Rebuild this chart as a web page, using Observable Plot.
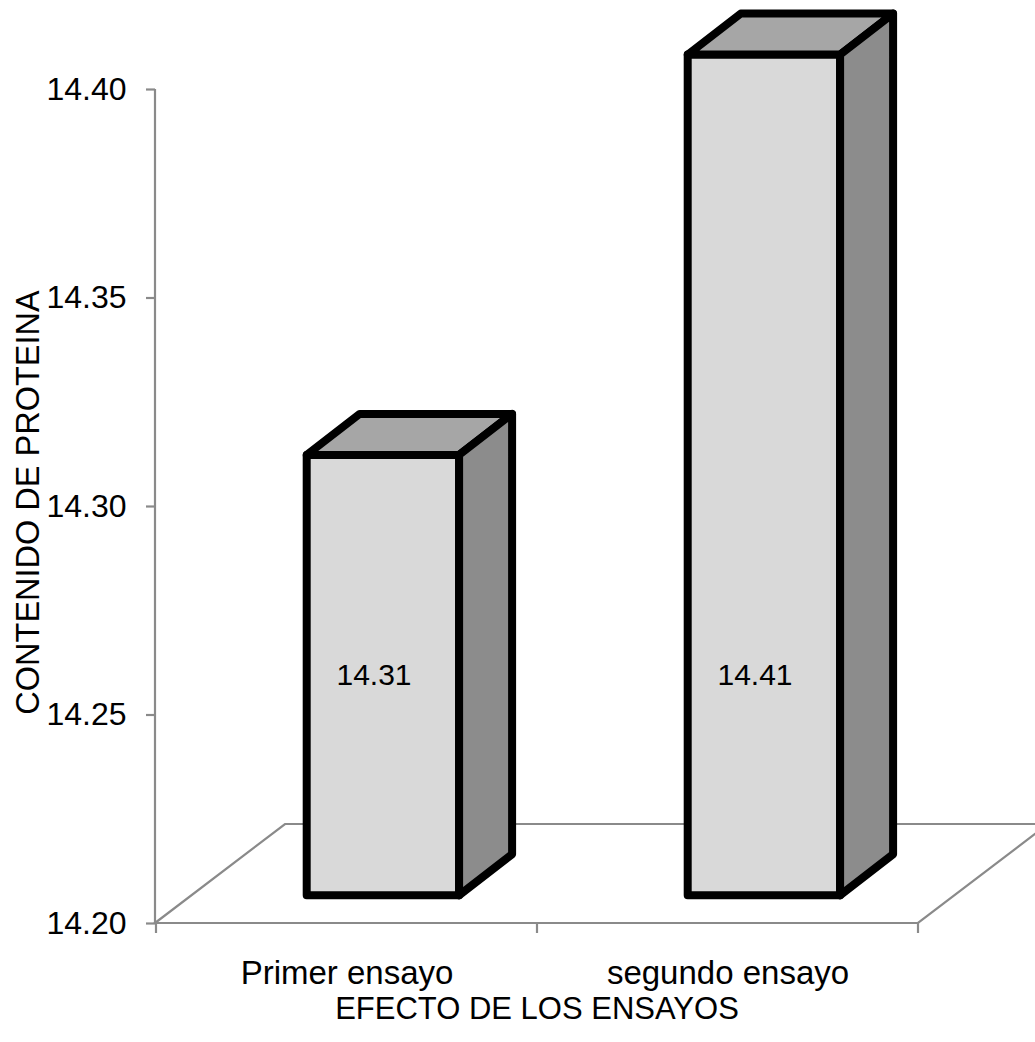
<!DOCTYPE html>
<html>
<head>
<meta charset="utf-8">
<script src="https://cdn.jsdelivr.net/npm/d3@7"></script>
<script src="https://cdn.jsdelivr.net/npm/@observablehq/plot@0.6"></script>
<style>
  html, body { margin: 0; padding: 0; background: #fff; }
  #chart { width: 1035px; height: 1042px; overflow: hidden; }
</style>
</head>
<body>
<div id="chart"></div>
<script>
// Protein content per trial
const ensayos = ["Primer ensayo", "segundo ensayo"];
const proteina = [14.31, 14.41];
const yTicks = [14.20, 14.25, 14.30, 14.35, 14.40];
const tituloY = "CONTENIDO DE PROTEINA";
const tituloX = "EFECTO DE LOS ENSAYOS";

const data = ensayos.map((ensayo, i) => ({ensayo, proteina: proteina[i]}));
const yBase = yTicks[0];

// Oblique 3D projection settings
const floorDX = 130, floorDY = -99;   // depth of the floor
const barFront = 0.28;                // depth fraction where the bar front sits
const barDX = 53, barDY = -41;        // depth of each column
const perspective = 0.96;             // vertical shrink at the column depth
const lineGray = "#8a8a8a";

// Floor, value-axis line and category boundary ticks
function floor(index, {x, y}, values, dim) {
  const x0 = dim.marginLeft, x1 = dim.width - dim.marginRight;
  const y0 = y(yBase);
  const g = d3.create("svg:g")
    .attr("fill", "none").attr("stroke", lineGray).attr("stroke-width", 2.2);
  g.append("path")
    .attr("d", `M${x0},${y0}L${x0 + floorDX},${y0 + floorDY}H${x1 + floorDX}L${x1},${y0}Z`);
  g.append("line")
    .attr("x1", x0).attr("x2", x0)
    .attr("y1", y(yTicks[yTicks.length - 1])).attr("y2", y0);
  const bounds = [...x.domain().map(c => x(c)), x1];
  for (const bx of bounds) {
    g.append("line").attr("x1", bx).attr("x2", bx).attr("y1", y0).attr("y2", y0 + 10);
  }
  return g.node();
}

// 3D columns
function columns(index, {x, y}) {
  const bw = x.bandwidth();
  const g = d3.create("svg:g")
    .attr("stroke", "#000").attr("stroke-width", 8).attr("stroke-linejoin", "round");
  for (const d of data) {
    const xl = x(d.ensayo) + bw * 0.3 + floorDX * barFront;
    const xr = xl + bw * 0.4;
    const yb = y(yBase) + floorDY * barFront;
    const yt = yb - (y(yBase) - y(d.proteina)) * perspective;
    g.append("path").attr("fill", "#d9d9d9")
      .attr("d", `M${xl},${yt}H${xr}V${yb}H${xl}Z`);
    g.append("path").attr("fill", "#a6a6a6")
      .attr("d", `M${xl},${yt}L${xl + barDX},${yt + barDY}H${xr + barDX}L${xr},${yt}Z`);
    g.append("path").attr("fill", "#8c8c8c")
      .attr("d", `M${xr},${yt}L${xr + barDX},${yt + barDY}V${yb + barDY}L${xr},${yb}Z`);
  }
  return g.node();
}

const chart = Plot.plot({
  width: 1035,
  height: 1042,
  marginTop: 89,
  marginRight: 117,
  marginBottom: 119,
  marginLeft: 155,
  style: {
    fontFamily: "'Liberation Sans', Arial, sans-serif",
    fontSize: "30px",
    background: "#fff",
    color: "#000"
  },
  x: {type: "band", domain: ensayos, padding: 0},
  y: {domain: [yTicks[0], yTicks[yTicks.length - 1]]},
  marks: [
    floor,
    Plot.axisY(yTicks, {
      tickFormat: d => d.toFixed(2),
      tickSize: 9,
      tickPadding: 20,
      fontSize: 32,
      stroke: lineGray,
      strokeWidth: 2.2,
      fill: "#000",
      label: null
    }),
    Plot.axisX({
      tickSize: 0,
      tickPadding: 37,
      fontSize: 33,
      fill: "#000",
      label: null
    }),
    columns,
    Plot.text(data, {
      x: "ensayo",
      y: () => 14.26,
      dx: 27,
      dy: 2,
      text: d => d.proteina.toFixed(2),
      fontSize: 30,
      fill: "#000"
    }),
    Plot.text([tituloY], {
      text: d => d,
      frameAnchor: "left",
      textAnchor: "middle",
      lineAnchor: "middle",
      rotate: -90,
      dx: -127,
      dy: -4,
      fontSize: 32.5,
      fill: "#000"
    }),
    Plot.text([tituloX], {
      text: d => d,
      frameAnchor: "bottom",
      textAnchor: "middle",
      lineAnchor: "middle",
      dy: 86,
      fontSize: 31,
      fill: "#000"
    })
  ]
});

document.getElementById("chart").appendChild(chart);
</script>
</body>
</html>
